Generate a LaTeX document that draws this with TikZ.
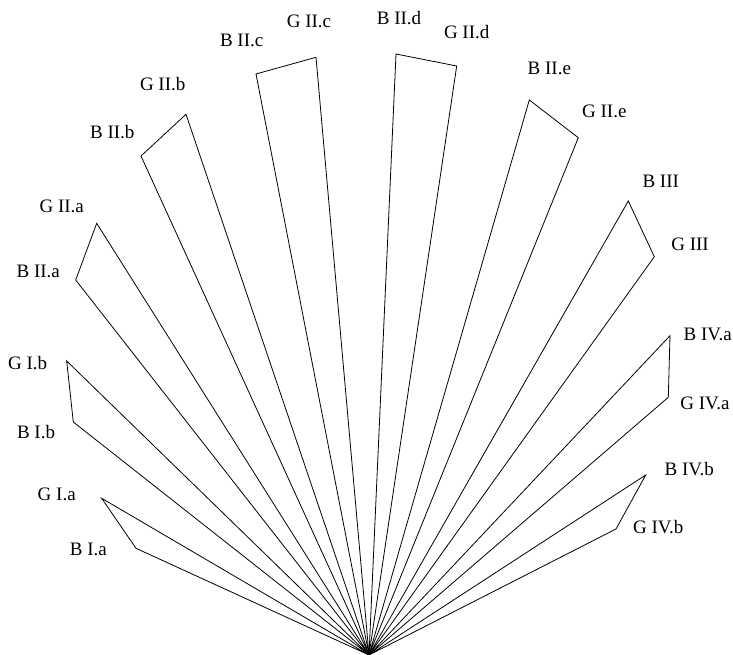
\documentclass[tikz,border=0pt]{standalone}
\usepackage{fontspec}
\setmainfont{Liberation Serif}
\begin{document}
\begin{tikzpicture}[x=1pt,y=-1pt,
  petal/.style={draw=black,line width=0.8pt,line join=miter},
  lab/.style={font=\fontsize{19}{22}\selectfont,inner sep=0pt,anchor=center}]
\useasboundingbox (0,0) rectangle (733,655);
\coordinate (c) at (369,655);
% vertices
\coordinate (vBIa) at (136,548.3);   \coordinate (vGIa) at (101.7,498.3);
\coordinate (vBIb) at (73.3,422);    \coordinate (vGIb) at (66.7,361);
\coordinate (vBIIa) at (75.7,280);   \coordinate (vGIIa) at (96.7,223.3);
\coordinate (vBIIb) at (141,156);    \coordinate (vGIIb) at (186,114.3);
\coordinate (vBIIc) at (256,74);     \coordinate (vGIIc) at (316,57.3);
\coordinate (vBIId) at (396,54);     \coordinate (vGIId) at (456.7,66);
\coordinate (vBIIe) at (529.3,100);  \coordinate (vGIIe) at (578.3,137.7);
\coordinate (vBIII) at (628.3,201);  \coordinate (vGIII) at (654.3,256.7);
\coordinate (vBIVa) at (670,335.7);  \coordinate (vGIVa) at (668.3,397.3);
\coordinate (vBIVb) at (645.7,475);  \coordinate (vGIVb) at (616,529);
% petals
\foreach \a/\b in {BIa/GIa,BIb/GIb,BIIa/GIIa,BIIb/GIIb,BIIc/GIIc,BIId/GIId,BIIe/GIIe,BIII/GIII,BIVa/GIVa,BIVb/GIVb}
  \draw[petal] (c) -- (v\a) -- (v\b) -- cycle;
% labels
\node[lab] (lGIa) at (56.7,494.3) {G I.a};
\node[lab] (lBIa) at (88.3,549.3) {B I.a};
\node[lab] (lGIb) at (27.7,362.7) {G I.b};
\node[lab] (lBIb) at (36,431.7) {B I.b};
\node[lab] (lGIIa) at (61.7,206.7) {G II.a};
\node[lab] (lBIIa) at (38.3,271.7) {B II.a};
\node[lab] (lGIIb) at (162.7,84.3) {G II.b};
\node[lab] (lBIIb) at (112.3,131.7) {B II.b};
\node[lab] (lBIIc) at (241.7,40) {B II.c};
\node[lab] (lGIIc) at (309,21.7) {G II.c};
\node[lab] (lBIId) at (399,18.3) {B II.d};
\node[lab] (lGIId) at (466.7,31.7) {G II.d};
\node[lab] (lBIIe) at (549.3,68.3) {B II.e};
\node[lab] (lGIIe) at (604.3,111.7) {G II.e};
\node[lab] (lBIII) at (660.7,181.7) {B III};
\node[lab] (lGIII) at (690,244.3) {G III};
\node[lab] (lBIVa) at (707.7,334.3) {B IV.a};
\node[lab] (lGIVa) at (705,403.3) {G IV.a};
\node[lab] (lBIVb) at (689.3,469) {B IV.b};
\node[lab] (lGIVb) at (658.3,526.7) {G IV.b};
\end{tikzpicture}
\end{document}
